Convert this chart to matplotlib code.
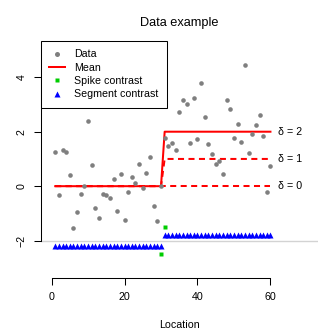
import numpy as np
import matplotlib
matplotlib.use("Agg")
import matplotlib.pyplot as plt
from matplotlib.lines import Line2D

plt.rcParams['font.family'] = ['Liberation Sans', 'DejaVu Sans']

# ---- data ----
location = np.arange(1, 61)
data_values = [1.27, -0.33, 1.34, 1.26, 0.42, -1.53, -0.93, -0.30, 0.00, 2.39,
               0.77, -0.81, -1.15, -0.30, -0.32, -0.42, 0.25, -0.90, 0.45, -1.24,
               -0.21, 0.35, 0.13, 0.80, -0.07, 0.50, 1.07, -0.71, -1.29, 0.02,
               1.76, 1.46, 1.57, 1.34, 2.72, 3.15, 3.01, 1.57, 3.24, 1.72,
               3.78, 2.55, 1.55, 1.17, 0.80, 0.92, 0.44, 3.18, 2.83, 1.78,
               2.27, 1.62, 4.45, 1.21, 1.93, 2.25, 2.61, 1.83, -0.21, 0.73]
deltas = [2, 1, 0]
delta_labels = ["δ = 2", "δ = 1", "δ = 0"]
mean_delta2 = [0] * 30 + [2] * 30
mean_delta1 = [0] * 30 + [1] * 30
mean_delta0 = [0] * 30 + [0] * 30
spike_x = [30, 31]
spike_y = [-2.5, -1.5]
segment_y = [-2.2] * 30 + [-1.8] * 30
baseline = -2
x_ticks = [0, 20, 40, 60]
y_ticks = [-2, 0, 2, 4]

W = H = 332
fig = plt.figure(figsize=(W / 100, H / 100), dpi=100)
ax = fig.add_axes([41 / W, (W - 277.7) / H, (317.5 - 41) / W, (277.7 - 41) / H])
ax.set_xlim(-2.9, 72.9)
ax.set_ylim(-3.36, 5.33)

grey = '#7f7f7f'
red = '#ff0000'
lw = 1.45

ax.axhline(baseline, color='#d3d3d3', lw=1.0, zorder=1)

dash = (3.0, 2.2)
ax.plot(location, mean_delta1, color=red, lw=lw, ls=(0, dash), zorder=2)
ax.plot(location, mean_delta0, color=red, lw=lw, ls=(0, dash), zorder=2)
ax.plot(location, mean_delta2, color=red, lw=lw, zorder=3)

ax.plot(location, data_values, 'o', color=grey, ms=3.3, mec='none', zorder=4)
ax.plot(location, segment_y, '^', color='#0000ff', ms=3.8, mec='none', zorder=4, clip_on=False)
ax.plot(spike_x, spike_y, 's', color='#00cd00', ms=2.9, mec='none', zorder=5, clip_on=False)

means = [mean_delta2, mean_delta1, mean_delta0]
for m, lab in zip(means, delta_labels):
    ax.annotate(lab, xy=(location[-1], m[-1]), xytext=(5.3, 0),
                textcoords='offset points', ha='left', va='center', fontsize=7.7)

# axes styling (R-like)
for s in ['top', 'right']:
    ax.spines[s].set_visible(False)
ax.spines['left'].set_bounds(y_ticks[0], y_ticks[-1])
ax.spines['bottom'].set_bounds(x_ticks[0], x_ticks[-1])
for s in ['left', 'bottom']:
    ax.spines[s].set_linewidth(0.75)
ax.set_xticks(x_ticks)
ax.set_yticks(y_ticks)
ax.tick_params(direction='out', length=4.7, width=0.75, labelsize=7.7, pad=5.5)
for lab in ax.get_yticklabels():
    lab.set_rotation(90)
    lab.set_va('center')

ax.set_xlabel('Location', fontsize=7.7, labelpad=13)
ax.set_title('Data example', fontsize=9.2, pad=11)

handles = [
    Line2D([], [], ls='none', marker='o', color=grey, ms=3.6, mec='none'),
    Line2D([], [], color=red, lw=lw),
    Line2D([], [], ls='none', marker='s', color='#00cd00', ms=3.0, mec='none'),
    Line2D([], [], ls='none', marker='^', color='#0000ff', ms=4.0, mec='none'),
]
leg = ax.legend(handles, ['Data', 'Mean', 'Spike contrast', 'Segment contrast'],
                loc='upper left', bbox_to_anchor=(0, 1), borderaxespad=0,
                fontsize=7.7, frameon=True, fancybox=False, framealpha=1,
                edgecolor='black', borderpad=0.78, labelspacing=0.31,
                handlelength=1.5, handletextpad=0.85)
leg.get_frame().set_linewidth(0.75)

fig.savefig('out.png', dpi=100)
